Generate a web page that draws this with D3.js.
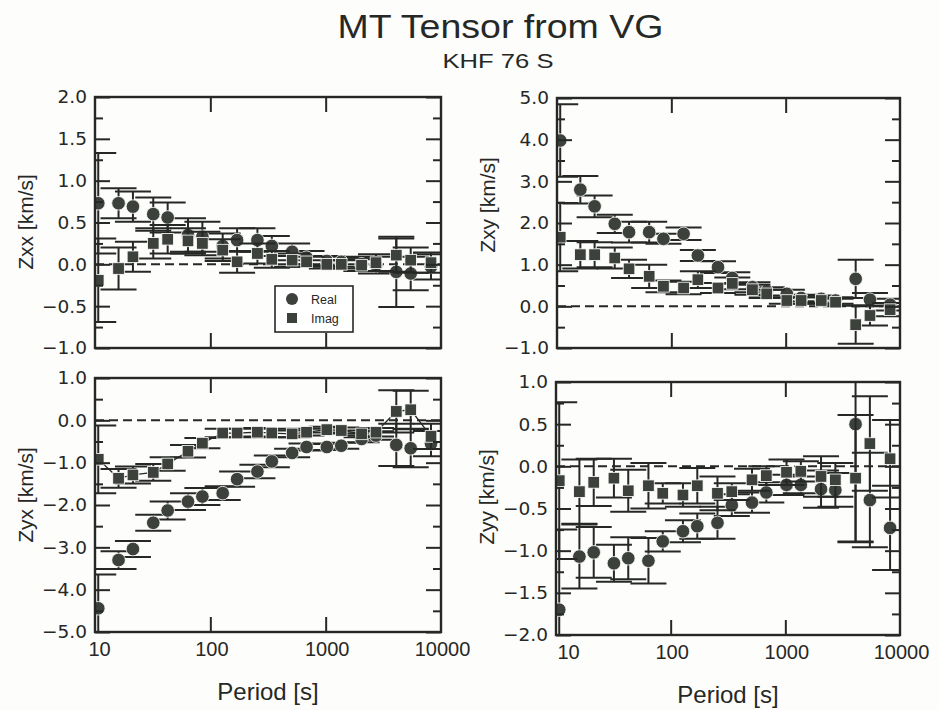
<!DOCTYPE html>
<html>
<head>
<meta charset="utf-8">
<script src="https://cdn.jsdelivr.net/npm/d3@7/dist/d3.min.js"></script>
<style>
  html, body { margin: 0; padding: 0; background: #fff; }
  svg { display: block; }
</style>
</head>
<body>
<svg id="chart" width="939" height="710"></svg>
<script>
// Sampling periods [s]
const periods = [10.67, 16, 21.33, 32, 42.67, 64, 85.33, 128, 170.67, 256, 341.33, 512, 682.67, 1024, 1365.33, 2048, 2730.67, 4096, 5461.33, 8192];

// Zxx
const zxxReal    = [0.73, 0.73, 0.69, 0.60, 0.56, 0.35, 0.33, 0.22, 0.29, 0.29, 0.22, 0.15, 0.08, 0.04, 0.03, 0.00, -0.01, -0.09, -0.11, -0.03];
const zxxRealErr = [0.60, 0.18, 0.18, 0.20, 0.18, 0.20, 0.18, 0.15, 0.14, 0.14, 0.12, 0.10, 0.08, 0.06, 0.06, 0.08, 0.10, 0.42, 0.20, 0.15];
const zxxImag    = [-0.19, -0.05, 0.09, 0.25, 0.30, 0.28, 0.25, 0.17, 0.03, 0.13, 0.06, 0.05, 0.03, 0.00, 0.00, -0.01, 0.02, 0.11, 0.05, 0.02];
const zxxImagErr = [0.50, 0.25, 0.18, 0.18, 0.17, 0.15, 0.14, 0.13, 0.13, 0.12, 0.10, 0.08, 0.06, 0.05, 0.05, 0.07, 0.10, 0.20, 0.15, 0.12];

// Zxy
const zxyReal    = [3.98, 2.80, 2.40, 1.98, 1.78, 1.78, 1.62, 1.74, 1.22, 0.94, 0.68, 0.46, 0.36, 0.30, 0.20, 0.18, 0.14, 0.66, 0.16, 0.04];
const zxyRealErr = [0.87, 0.33, 0.26, 0.22, 0.25, 0.25, 0.12, 0.15, 0.13, 0.14, 0.14, 0.12, 0.10, 0.10, 0.08, 0.08, 0.08, 0.46, 0.16, 0.14];
const zxyImag    = [1.66, 1.24, 1.24, 1.16, 0.90, 0.72, 0.48, 0.44, 0.64, 0.44, 0.55, 0.40, 0.30, 0.14, 0.14, 0.14, 0.10, -0.44, -0.22, -0.08];
const zxyImagErr = [0.82, 0.33, 0.30, 0.25, 0.22, 0.28, 0.14, 0.15, 0.20, 0.12, 0.14, 0.12, 0.10, 0.08, 0.08, 0.08, 0.08, 0.46, 0.24, 0.16];

// Zyx
const zyxReal    = [-4.44, -3.30, -3.04, -2.42, -2.13, -1.92, -1.80, -1.72, -1.39, -1.21, -0.97, -0.77, -0.63, -0.63, -0.60, -0.44, -0.36, -0.58, -0.66, -0.55];
const zyxRealErr = [0.80, 0.21, 0.19, 0.19, 0.21, 0.20, 0.20, 0.16, 0.18, 0.16, 0.14, 0.10, 0.08, 0.07, 0.07, 0.08, 0.10, 0.50, 0.45, 0.30];
const zyxImag    = [-0.92, -1.37, -1.29, -1.23, -1.03, -0.73, -0.54, -0.30, -0.30, -0.28, -0.30, -0.32, -0.28, -0.22, -0.24, -0.32, -0.28, 0.21, 0.25, -0.38];
const zyxImagErr = [0.80, 0.22, 0.20, 0.20, 0.16, 0.15, 0.12, 0.10, 0.10, 0.10, 0.10, 0.08, 0.08, 0.07, 0.07, 0.08, 0.10, 0.50, 0.45, 0.30];

// Zyy
const zyyReal    = [-1.70, -1.07, -1.02, -1.15, -1.09, -1.12, -0.89, -0.77, -0.71, -0.67, -0.46, -0.43, -0.31, -0.22, -0.22, -0.27, -0.28, 0.50, -0.40, -0.73];
const zyyRealErr = [0.95, 0.38, 0.30, 0.22, 0.25, 0.27, 0.12, 0.13, 0.15, 0.19, 0.13, 0.12, 0.12, 0.12, 0.10, 0.22, 0.20, 1.40, 0.56, 0.50];
const zyyImag    = [-0.17, -0.30, -0.19, -0.14, -0.29, -0.23, -0.32, -0.34, -0.23, -0.32, -0.30, -0.16, -0.11, -0.07, -0.06, -0.12, -0.16, -0.14, 0.27, 0.09];
const zyyImagErr = [0.93, 0.38, 0.28, 0.23, 0.25, 0.27, 0.12, 0.14, 0.21, 0.20, 0.10, 0.13, 0.11, 0.15, 0.12, 0.24, 0.20, 0.75, 0.56, 0.46];

// Axis tick values
const periodLabels = [10, 100, 1000, 10000];
const periodTicks  = [100, 1000];
const yTicksZxx = [-1.0, -0.5, 0.0, 0.5, 1.0, 1.5, 2.0];
const yMinorZxx = [-0.75, -0.25, 0.25, 0.75, 1.25, 1.75];
const yTicksZxy = [-1, 0, 1, 2, 3, 4, 5];
const yMinorZxy = [-0.5, 0.5, 1.5, 2.5, 3.5, 4.5];
const yTicksZyx = [-5, -4, -3, -2, -1, 0, 1];
const yMinorZyx = [-4.5, -3.5, -2.5, -1.5, -0.5, 0.5];
const yTicksZyy = [-2.0, -1.5, -1.0, -0.5, 0.0, 0.5, 1.0];
const yMinorZyy = [-1.75, -1.25, -0.75, -0.25, 0.25, 0.75];

const INK = "#262826";
const MARK = "#3c413c";
const SANS = "'Liberation Sans', Arial, sans-serif";

const panels = [
  { id: "zxx", label: "Zxx [km/s]", real: zxxReal, realErr: zxxRealErr, imag: zxxImag, imagErr: zxxImagErr,
    ticks: yTicksZxx, minor: yMinorZxx, box: [95, 97, 441, 348], labelY: 222, legend: true },
  { id: "zxy", label: "Zxy [km/s]", real: zxyReal, realErr: zxyRealErr, imag: zxyImag, imagErr: zxyImagErr,
    ticks: yTicksZxy, minor: yMinorZxy, box: [557, 98, 900, 348], labelY: 205 },
  { id: "zyx", label: "Zyx [km/s]", real: zyxReal, realErr: zyxRealErr, imag: zyxImag, imagErr: zyxImagErr,
    ticks: yTicksZyx, minor: yMinorZyx, box: [95, 378, 441, 632], labelY: 495, xTitle: true, imagLine: true,
    titleY: 700, firstDx: 4 },
  { id: "zyy", label: "Zyy [km/s]", real: zyyReal, realErr: zyyRealErr, imag: zyyImag, imagErr: zyyImagErr,
    ticks: yTicksZyy, minor: yMinorZyy, box: [556, 382, 900, 635], labelY: 497, xTitle: true,
    titleY: 703, firstDx: 12 }
];

const svg = d3.select("#chart");
svg.append("rect").attr("width", 939).attr("height", 710).attr("fill", "#fdfdfb");

// Titles (the typeface runs a little wide, so it is stretched horizontally)
svg.append("text").attr("transform", "translate(500.5,38) scale(1.12,1)").attr("text-anchor", "middle")
  .attr("font-family", SANS).attr("font-size", 33.5).attr("fill", INK)
  .text("MT Tensor from VG");
svg.append("text").attr("transform", "translate(498,68) scale(1.22,1)").attr("text-anchor", "middle")
  .attr("font-family", SANS).attr("font-size", 21).attr("fill", INK)
  .text("KHF 76 S");

const fmt = d3.format(".1f");

panels.forEach(p => {
  const [x0, y0, x1, y1] = p.box;
  const x = d3.scaleLog().domain([10, 10000]).range([x0, x1]);
  const y = d3.scaleLinear().domain(d3.extent(p.ticks)).range([y1, y0]);

  const g = svg.append("g");
  const clipId = "clip-" + p.id;
  g.append("clipPath").attr("id", clipId).append("rect")
    .attr("x", x0).attr("y", y0).attr("width", x1 - x0).attr("height", y1 - y0);

  // zero reference
  g.append("line").attr("x1", x0).attr("x2", x1).attr("y1", y(0)).attr("y2", y(0))
    .attr("stroke", INK).attr("stroke-width", 2).attr("stroke-dasharray", "9,5");

  const plot = g.append("g").attr("clip-path", `url(#${clipId})`);

  if (p.imagLine) {
    plot.append("path")
      .datum(periods.map((t, i) => [t, p.imag[i]]))
      .attr("fill", "none").attr("stroke", INK).attr("stroke-width", 1.3)
      .attr("d", d3.line().x(d => x(d[0])).y(d => y(d[1])));
  }

  const drawSeries = (vals, errs, shape) => {
    const pts = periods.map((t, i) => ({ t, v: vals[i], e: errs[i] }));
    const eb = plot.append("g").attr("stroke", INK).attr("stroke-width", 2);
    pts.forEach(d => {
      const cx = x(d.t), yt = y(d.v + d.e), yb = y(d.v - d.e);
      eb.append("line").attr("x1", cx).attr("x2", cx).attr("y1", yt).attr("y2", yb);
      eb.append("line").attr("x1", cx - 18).attr("x2", cx + 18).attr("y1", yt).attr("y2", yt);
      eb.append("line").attr("x1", cx - 18).attr("x2", cx + 18).attr("y1", yb).attr("y2", yb);
    });
    const mk = plot.append("g");
    if (shape === "circle") {
      mk.selectAll("circle").data(pts).join("circle")
        .attr("cx", d => x(d.t)).attr("cy", d => y(d.v)).attr("r", 6.8)
        .attr("fill", MARK).attr("stroke", "#fff").attr("stroke-width", 0.8);
    } else {
      mk.selectAll("rect").data(pts).join("rect")
        .attr("x", d => x(d.t) - 5.8).attr("y", d => y(d.v) - 5.8)
        .attr("width", 11.6).attr("height", 11.6)
        .attr("fill", MARK).attr("stroke", "#fff").attr("stroke-width", 0.8);
    }
  };
  drawSeries(p.real, p.realErr, "circle");
  drawSeries(p.imag, p.imagErr, "square");

  // Axes: inward ticks on all four sides
  const styleAxis = sel => {
    sel.select(".domain").remove();
    sel.selectAll(".tick line").attr("stroke", INK).attr("stroke-width", 2);
  };
  g.append("g").attr("transform", `translate(${x0},0)`)
    .call(d3.axisLeft(y).tickValues(p.ticks).tickSizeInner(-15).tickSizeOuter(0).tickPadding(8).tickFormat(fmt))
    .call(styleAxis)
    .call(s => s.selectAll("text").attr("font-family", "'DejaVu Sans', sans-serif").attr("font-size", 18.5).attr("fill", INK));
  g.append("g").attr("transform", `translate(${x0},0)`)
    .call(d3.axisLeft(y).tickValues(p.minor).tickSizeInner(-8).tickSizeOuter(0).tickFormat(""))
    .call(styleAxis);
  g.append("g").attr("transform", `translate(${x1},0)`)
    .call(d3.axisRight(y).tickValues(p.ticks).tickSizeInner(-15).tickSizeOuter(0).tickFormat(""))
    .call(styleAxis);
  g.append("g").attr("transform", `translate(${x1},0)`)
    .call(d3.axisRight(y).tickValues(p.minor).tickSizeInner(-8).tickSizeOuter(0).tickFormat(""))
    .call(styleAxis);
  g.append("g").attr("transform", `translate(0,${y0})`)
    .call(d3.axisTop(x).tickValues(periodTicks).tickSizeInner(-15).tickSizeOuter(0).tickFormat(""))
    .call(styleAxis);
  g.append("g").attr("transform", `translate(0,${y1})`)
    .call(d3.axisBottom(x).tickValues(periodTicks).tickSizeInner(-15).tickSizeOuter(0).tickFormat(""))
    .call(styleAxis);

  if (p.xTitle) {
    g.append("g").attr("transform", `translate(0,${y1})`)
      .call(d3.axisBottom(x).tickValues(periodLabels).tickSize(0).tickPadding(10).tickFormat(d3.format("d")))
      .call(s => s.select(".domain").remove())
      .call(s => s.selectAll("text").attr("font-family", SANS)
        .attr("font-size", 20).attr("fill", INK)
        .attr("dx", d => d === 10 ? p.firstDx : 1));
    g.append("text").attr("x", (x0 + x1) / 2).attr("y", p.titleY).attr("text-anchor", "middle")
      .attr("font-family", SANS).attr("font-size", 24).attr("fill", INK)
      .text("Period [s]");
  }

  // Frame
  g.append("rect").attr("x", x0).attr("y", y0).attr("width", x1 - x0).attr("height", y1 - y0)
    .attr("fill", "none").attr("stroke", INK).attr("stroke-width", 2.4);

  // Y title
  g.append("text").attr("transform", `translate(${x0 - 62},${p.labelY}) rotate(-90)`)
    .attr("text-anchor", "middle").attr("font-family", SANS)
    .attr("font-size", 21).attr("fill", INK).text(p.label);

  if (p.legend) {
    const lg = g.append("g");
    lg.append("rect").attr("x", 275).attr("y", 286).attr("width", 78).attr("height", 46)
      .attr("fill", "#fff").attr("stroke", INK).attr("stroke-width", 1.6);
    lg.append("circle").attr("cx", 292).attr("cy", 299).attr("r", 6).attr("fill", MARK);
    lg.append("rect").attr("x", 287).attr("y", 313).attr("width", 10).attr("height", 10).attr("fill", MARK);
    lg.append("text").attr("x", 311).attr("y", 304).attr("font-family", SANS)
      .attr("font-size", 12.5).attr("fill", INK).text("Real");
    lg.append("text").attr("x", 311).attr("y", 323).attr("font-family", SANS)
      .attr("font-size", 12.5).attr("fill", INK).text("Imag");
  }
});
</script>
</body>
</html>
